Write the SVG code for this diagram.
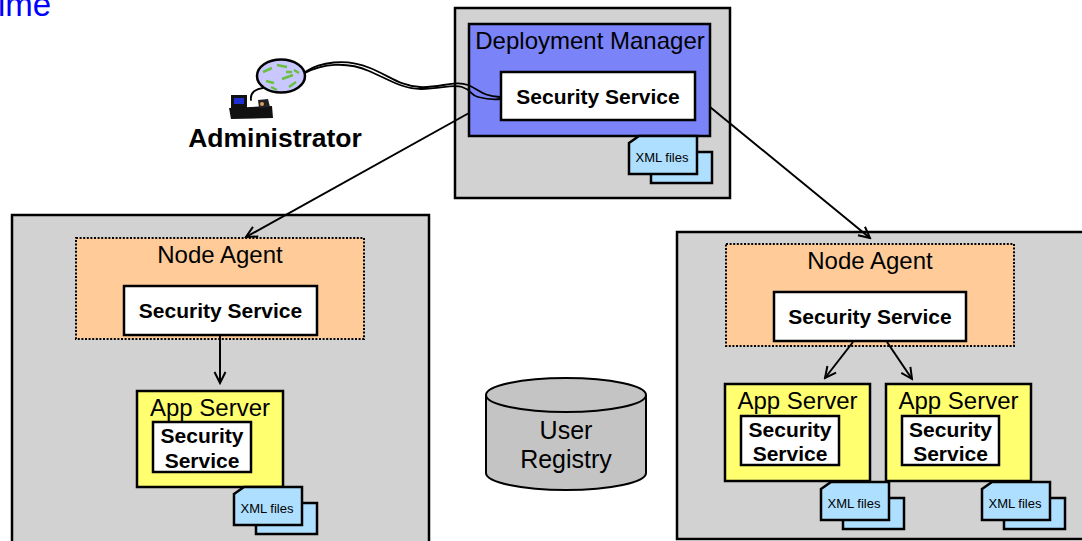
<svg xmlns="http://www.w3.org/2000/svg" width="1082" height="541" viewBox="0 0 1082 541">
  <style>
    .host { fill: #D2D2D2; stroke: #000; stroke-width: 2.5; }
    .dm { fill: #7B83F8; stroke: #000; stroke-width: 2.5; }
    .agent { fill: #FFCC99; stroke: #000; stroke-width: 2; stroke-dasharray: 2 1.6; }
    .app { fill: #FFFF70; stroke: #000; stroke-width: 2.5; }
    .svc { fill: #FFF; stroke: #000; stroke-width: 2.5; }
    .doc { fill: #AEDFFF; stroke: #000; stroke-width: 2.5; stroke-linejoin: miter; }
    .db { fill: #C4C4C4; stroke: #000; stroke-width: 2; }
    .t { font-family: "Liberation Sans", Arial, sans-serif; fill: #000; text-anchor: middle; }
    .big { font-size: 24px; }
    .bold { font-size: 21px; font-weight: bold; }
    .small { font-size: 13px; }
    .edge { stroke: #000; stroke-width: 2; fill: none; }
    .wire { stroke: #000; stroke-width: 1.8; fill: none; stroke-linecap: round; }
  </style>
  <defs>
    <marker id="arr" viewBox="0 0 14 14" refX="12" refY="7" markerWidth="14" markerHeight="14" orient="auto" markerUnits="userSpaceOnUse">
      <path d="M1,1.5 L12,7 L1,12.5" fill="none" stroke="#000" stroke-width="2"/>
    </marker>
    <!-- stacked document icon: back sheet and front sheet with a folded corner -->
    <g id="xml">
      <rect class="doc" x="22" y="16" width="61" height="31"/>
      <path class="doc" d="M0,7 L10,0 L68,0 L68,38 L0,38 Z"/>
      <text class="t small" x="33" y="26">XML files</text>
    </g>
  </defs>

  <!-- page title fragment -->
  <text x="-2" y="16" font-family="Liberation Sans, Arial, sans-serif" font-size="33" fill="#0000FF">ime</text>

  <!-- administrator workstation -->
  <g id="administrator">
    <path class="wire" d="M263,88 C255,89 250,93 251,100"/>
    <ellipse cx="281" cy="76" rx="24" ry="16.5" fill="#C8C8FF" stroke="#000" stroke-width="2.5"/>
    <path d="M263,72 l9,-4 M277,65 l10,2 M266,81 l8,2 M282,79 l11,-4 M289,87 l7,-5 M271,87 l6,3 M286,72 l6,0 M294,70 l5,3" stroke="#6BBF40" stroke-width="2.5" fill="none"/>
    <rect x="231" y="95" width="16" height="14" fill="#111"/>
    <rect x="234" y="98" width="10" height="6" fill="#2030D0"/>
    <path d="M229,108 L272,106 L273,118 L231,119 Z" fill="#111"/>
    <path d="M258,100 L268,99 L270,107 L259,108 Z" fill="#222"/>
    <circle cx="262" cy="104" r="2" fill="#D9A060"/>
    <text class="t" x="275" y="147" font-size="26.5" font-weight="bold">Administrator</text>
  </g>

  <!-- deployment manager host -->
  <g id="dm-host">
    <rect class="host" x="455" y="8" width="275" height="190"/>
    <rect class="dm" x="469" y="24" width="241" height="112"/>
    <text class="t big" x="590" y="49">Deployment Manager</text>
    <rect class="svc" x="501" y="72" width="194" height="48"/>
    <text class="t bold" x="598" y="104">Security Service</text>
    <use href="#xml" x="629" y="136"/>
  </g>

  <!-- network wire into the deployment manager -->
  <g id="wire">
    <path class="wire" d="M305,72 C320,62 345,58 370,68 C390,76 400,86 420,87 C440,88 455,80 468,85 C480,90 482,96 500,97"/>
    <path class="wire" d="M305,73 C322,64 346,61 369,71 C388,79 402,89 421,89 C441,89 452,84 462,87 C472,90 470,95 478,97 C486,99 492,100 500,99"/>
  </g>

  <!-- left managed node -->
  <g id="node-left">
    <rect class="host" x="12" y="215" width="417" height="330"/>
    <rect class="agent" x="76" y="238" width="288" height="101"/>
    <text class="t big" x="220" y="263">Node Agent</text>
    <rect class="svc" x="124" y="286" width="193" height="49"/>
    <text class="t bold" x="220.5" y="318">Security Service</text>
  </g>
  <g id="app-left">
    <rect class="app" x="137" y="391" width="146" height="96"/>
    <text class="t big" x="210" y="416">App Server</text>
    <rect class="svc" x="153" y="422" width="98" height="50"/>
    <text class="t bold" x="202" y="443">Security</text>
    <text class="t bold" x="202" y="468">Service</text>
    <use href="#xml" x="234" y="487"/>
  </g>

  <!-- right managed node -->
  <g id="node-right">
    <rect class="host" x="677" y="232" width="420" height="307"/>
    <rect class="agent" x="726" y="244" width="288" height="102"/>
    <text class="t big" x="870" y="269">Node Agent</text>
    <rect class="svc" x="774" y="292" width="192" height="49"/>
    <text class="t bold" x="870" y="324">Security Service</text>
  </g>
  <g id="app-right-1">
    <rect class="app" x="725" y="384" width="145" height="97"/>
    <text class="t big" x="797.5" y="409">App Server</text>
    <rect class="svc" x="741" y="416" width="98" height="49"/>
    <text class="t bold" x="790" y="437">Security</text>
    <text class="t bold" x="790" y="461">Service</text>
    <use href="#xml" x="821" y="482"/>
  </g>
  <g id="app-right-2">
    <rect class="app" x="886" y="384" width="145" height="97"/>
    <text class="t big" x="958.5" y="409">App Server</text>
    <rect class="svc" x="902" y="416" width="97" height="49"/>
    <text class="t bold" x="950.5" y="437">Security</text>
    <text class="t bold" x="950.5" y="461">Service</text>
    <use href="#xml" x="982" y="482"/>
  </g>

  <!-- shared user registry -->
  <g id="user-registry">
    <path class="db" d="M486,395 L486,473 A80,17 0 0 0 646,473 L646,395"/>
    <ellipse class="db" cx="566" cy="395" rx="80" ry="17"/>
    <text class="t" x="566" y="439" font-size="25">User</text>
    <text class="t" x="566" y="468" font-size="25">Registry</text>
  </g>

  <!-- synchronisation connectors -->
  <g id="connectors">
    <line class="edge" x1="469" y1="113" x2="246" y2="237" marker-end="url(#arr)"/>
    <line class="edge" x1="710" y1="107" x2="870" y2="238" marker-end="url(#arr)"/>
    <line class="edge" x1="220" y1="335" x2="220" y2="383" marker-end="url(#arr)"/>
    <line class="edge" x1="853" y1="342" x2="825" y2="378" marker-end="url(#arr)"/>
    <line class="edge" x1="887" y1="342" x2="912" y2="379" marker-end="url(#arr)"/>
  </g>
</svg>
